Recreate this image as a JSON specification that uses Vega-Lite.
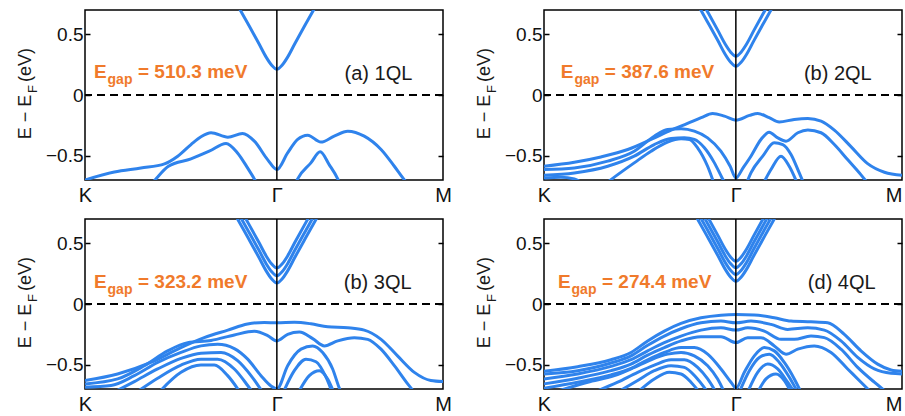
{
"$schema":"https://vega.github.io/schema/vega-lite/v6.json",
"background":"white",
"padding":{"left":15,"top":8,"right":0,"bottom":0},
"config":{"font":"Liberation Sans","view":{"stroke":"black","strokeWidth":1.5},"axis":{"labelFont":"Liberation Sans"}},
"datasets":{
"p1":[
{"band":"c1","k":0.416,"E":0.792},{"band":"c1","k":0.456,"E":0.582},{"band":"c1","k":0.486,"E":0.422},{"band":"c1","k":0.506,"E":0.312},{"band":"c1","k":0.521,"E":0.247},{"band":"c1","k":0.536,"E":0.212},{"band":"c1","k":0.551,"E":0.247},{"band":"c1","k":0.566,"E":0.312},{"band":"c1","k":0.586,"E":0.422},{"band":"c1","k":0.616,"E":0.582},{"band":"c1","k":0.656,"E":0.792},
{"band":"v1","k":0,"E":-0.70},{"band":"v1","k":0.082,"E":-0.634},{"band":"v1","k":0.156,"E":-0.601},{"band":"v1","k":0.222,"E":-0.567},{"band":"v1","k":0.259,"E":-0.504},{"band":"v1","k":0.296,"E":-0.408},{"band":"v1","k":0.324,"E":-0.344},{"band":"v1","k":0.352,"E":-0.311},{"band":"v1","k":0.399,"E":-0.347},{"band":"v1","k":0.44,"E":-0.317},{"band":"v1","k":0.473,"E":-0.38},{"band":"v1","k":0.51,"E":-0.532},{"band":"v1","k":0.536,"E":-0.614},{"band":"v1","k":0.566,"E":-0.477},{"band":"v1","k":0.594,"E":-0.366},{"band":"v1","k":0.622,"E":-0.331},{"band":"v1","k":0.659,"E":-0.388},{"band":"v1","k":0.696,"E":-0.339},{"band":"v1","k":0.734,"E":-0.298},{"band":"v1","k":0.78,"E":-0.339},{"band":"v1","k":0.827,"E":-0.449},{"band":"v1","k":0.864,"E":-0.587},{"band":"v1","k":0.89,"E":-0.691},{"band":"v1","k":0.91,"E":-0.76},
{"band":"v2","k":0.184,"E":-0.738},{"band":"v2","k":0.198,"E":-0.691},{"band":"v2","k":0.233,"E":-0.587},{"band":"v2","k":0.296,"E":-0.526},{"band":"v2","k":0.347,"E":-0.463},{"band":"v2","k":0.394,"E":-0.399},{"band":"v2","k":0.426,"E":-0.477},{"band":"v2","k":0.454,"E":-0.6},{"band":"v2","k":0.473,"E":-0.691},{"band":"v2","k":0.482,"E":-0.738},
{"band":"v3","k":0.585,"E":-0.752},{"band":"v3","k":0.594,"E":-0.691},{"band":"v3","k":0.631,"E":-0.559},{"band":"v3","k":0.657,"E":-0.468},{"band":"v3","k":0.682,"E":-0.573},{"band":"v3","k":0.706,"E":-0.691},{"band":"v3","k":0.715,"E":-0.752}
],
"p2":[
{"band":"c1","k":0.416,"E":0.816},{"band":"c1","k":0.456,"E":0.606},{"band":"c1","k":0.486,"E":0.446},{"band":"c1","k":0.506,"E":0.336},{"band":"c1","k":0.521,"E":0.271},{"band":"c1","k":0.536,"E":0.236},{"band":"c1","k":0.551,"E":0.271},{"band":"c1","k":0.566,"E":0.336},{"band":"c1","k":0.586,"E":0.446},{"band":"c1","k":0.616,"E":0.606},{"band":"c1","k":0.656,"E":0.816},
{"band":"c2","k":0.416,"E":0.9},{"band":"c2","k":0.456,"E":0.69},{"band":"c2","k":0.486,"E":0.53},{"band":"c2","k":0.506,"E":0.42},{"band":"c2","k":0.521,"E":0.355},{"band":"c2","k":0.536,"E":0.32},{"band":"c2","k":0.551,"E":0.355},{"band":"c2","k":0.566,"E":0.42},{"band":"c2","k":0.586,"E":0.53},{"band":"c2","k":0.616,"E":0.69},{"band":"c2","k":0.656,"E":0.9},
{"band":"A","k":0,"E":-0.587},{"band":"A","k":0.0847,"E":-0.554},{"band":"A","k":0.159,"E":-0.51},{"band":"A","k":0.234,"E":-0.449},{"band":"A","k":0.299,"E":-0.366},{"band":"A","k":0.355,"E":-0.289},{"band":"A","k":0.401,"E":-0.234},{"band":"A","k":0.439,"E":-0.187},{"band":"A","k":0.471,"E":-0.152},{"band":"A","k":0.504,"E":-0.174},{"band":"A","k":0.536,"E":-0.207},{"band":"A","k":0.574,"E":-0.168},{"band":"A","k":0.597,"E":-0.152},{"band":"A","k":0.629,"E":-0.187},{"band":"A","k":0.657,"E":-0.223},{"band":"A","k":0.699,"E":-0.201},{"band":"A","k":0.737,"E":-0.193},{"band":"A","k":0.774,"E":-0.215},{"band":"A","k":0.811,"E":-0.289},{"band":"A","k":0.858,"E":-0.427},{"band":"A","k":0.904,"E":-0.565},{"band":"A","k":0.951,"E":-0.636},{"band":"A","k":1,"E":-0.661},
{"band":"B","k":0,"E":-0.614},{"band":"B","k":0.0847,"E":-0.601},{"band":"B","k":0.178,"E":-0.545},{"band":"B","k":0.252,"E":-0.463},{"band":"B","k":0.308,"E":-0.339},{"band":"B","k":0.345,"E":-0.284},{"band":"B","k":0.383,"E":-0.278},{"band":"B","k":0.42,"E":-0.298},{"band":"B","k":0.457,"E":-0.353},{"band":"B","k":0.494,"E":-0.463},{"band":"B","k":0.52,"E":-0.587},{"band":"B","k":0.536,"E":-0.683},{"band":"B","k":0.556,"E":-0.6},{"band":"B","k":0.578,"E":-0.504},{"band":"B","k":0.606,"E":-0.366},{"band":"B","k":0.629,"E":-0.306},{"band":"B","k":0.653,"E":-0.353},{"band":"B","k":0.676,"E":-0.38},{"band":"B","k":0.709,"E":-0.311},{"band":"B","k":0.737,"E":-0.289},{"band":"B","k":0.774,"E":-0.311},{"band":"B","k":0.811,"E":-0.408},{"band":"B","k":0.848,"E":-0.532},{"band":"B","k":0.885,"E":-0.656},{"band":"B","k":0.904,"E":-0.725},
{"band":"C","k":0,"E":-0.661},{"band":"C","k":0.0847,"E":-0.642},{"band":"C","k":0.178,"E":-0.587},{"band":"C","k":0.252,"E":-0.504},{"band":"C","k":0.308,"E":-0.408},{"band":"C","k":0.355,"E":-0.358},{"band":"C","k":0.392,"E":-0.353},{"band":"C","k":0.42,"E":-0.366},{"band":"C","k":0.448,"E":-0.435},{"band":"C","k":0.476,"E":-0.559},{"band":"C","k":0.499,"E":-0.691},{"band":"C","k":0.508,"E":-0.738},
{"band":"C2","k":0.564,"E":-0.738},{"band":"C2","k":0.578,"E":-0.642},{"band":"C2","k":0.611,"E":-0.504},{"band":"C2","k":0.643,"E":-0.394},{"band":"C2","k":0.667,"E":-0.408},{"band":"C2","k":0.69,"E":-0.49},{"band":"C2","k":0.713,"E":-0.642},{"band":"C2","k":0.727,"E":-0.738},
{"band":"D","k":0,"E":-0.683},{"band":"D","k":0.047,"E":-0.678},{"band":"D","k":0.085,"E":-0.691},{"band":"D","k":0.113,"E":-0.738},
{"band":"E","k":0.169,"E":-0.738},{"band":"E","k":0.206,"E":-0.656},{"band":"E","k":0.252,"E":-0.559},{"band":"E","k":0.299,"E":-0.463},{"band":"E","k":0.345,"E":-0.388},{"band":"E","k":0.383,"E":-0.361},{"band":"E","k":0.406,"E":-0.366},{"band":"E","k":0.429,"E":-0.435},{"band":"E","k":0.457,"E":-0.587},{"band":"E","k":0.476,"E":-0.738},
{"band":"F","k":0.611,"E":-0.738},{"band":"F","k":0.634,"E":-0.614},{"band":"F","k":0.662,"E":-0.504},{"band":"F","k":0.685,"E":-0.587},{"band":"F","k":0.709,"E":-0.738}
],
"p3":[
{"band":"c1","k":0.416,"E":0.753},{"band":"c1","k":0.456,"E":0.543},{"band":"c1","k":0.486,"E":0.383},{"band":"c1","k":0.506,"E":0.273},{"band":"c1","k":0.521,"E":0.208},{"band":"c1","k":0.536,"E":0.173},{"band":"c1","k":0.551,"E":0.208},{"band":"c1","k":0.566,"E":0.273},{"band":"c1","k":0.586,"E":0.383},{"band":"c1","k":0.616,"E":0.543},{"band":"c1","k":0.656,"E":0.753},
{"band":"c2","k":0.416,"E":0.812},{"band":"c2","k":0.456,"E":0.602},{"band":"c2","k":0.486,"E":0.442},{"band":"c2","k":0.506,"E":0.332},{"band":"c2","k":0.521,"E":0.267},{"band":"c2","k":0.536,"E":0.232},{"band":"c2","k":0.551,"E":0.267},{"band":"c2","k":0.566,"E":0.332},{"band":"c2","k":0.586,"E":0.442},{"band":"c2","k":0.616,"E":0.602},{"band":"c2","k":0.656,"E":0.812},
{"band":"c3","k":0.416,"E":0.876},{"band":"c3","k":0.456,"E":0.666},{"band":"c3","k":0.486,"E":0.506},{"band":"c3","k":0.506,"E":0.396},{"band":"c3","k":0.521,"E":0.331},{"band":"c3","k":0.536,"E":0.296},{"band":"c3","k":0.551,"E":0.331},{"band":"c3","k":0.566,"E":0.396},{"band":"c3","k":0.586,"E":0.506},{"band":"c3","k":0.616,"E":0.666},{"band":"c3","k":0.656,"E":0.876},
{"band":"a","k":0,"E":-0.63},{"band":"a","k":0.091,"E":-0.576},{"band":"a","k":0.184,"E":-0.481},{"band":"a","k":0.268,"E":-0.359},{"band":"a","k":0.333,"E":-0.277},{"band":"a","k":0.399,"E":-0.215},{"band":"a","k":0.454,"E":-0.165},{"band":"a","k":0.501,"E":-0.152},{"band":"a","k":0.536,"E":-0.155},{"band":"a","k":0.585,"E":-0.15},{"band":"a","k":0.631,"E":-0.163},{"band":"a","k":0.678,"E":-0.188},{"band":"a","k":0.734,"E":-0.196},{"band":"a","k":0.78,"E":-0.215},{"band":"a","k":0.827,"E":-0.291},{"band":"a","k":0.873,"E":-0.427},{"band":"a","k":0.92,"E":-0.563},{"band":"a","k":0.966,"E":-0.63},{"band":"a","k":1,"E":-0.639},
{"band":"b","k":0,"E":-0.658},{"band":"b","k":0.0912,"E":-0.617},{"band":"b","k":0.1657,"E":-0.508},{"band":"b","k":0.2309,"E":-0.386},{"band":"b","k":0.2868,"E":-0.318},{"band":"b","k":0.352,"E":-0.3},{"band":"b","k":0.4171,"E":-0.255},{"band":"b","k":0.473,"E":-0.225},{"band":"b","k":0.5102,"E":-0.26},{"band":"b","k":0.536,"E":-0.304},{"band":"b","k":0.5661,"E":-0.25},{"band":"b","k":0.5987,"E":-0.231},{"band":"b","k":0.6359,"E":-0.285},{"band":"b","k":0.6685,"E":-0.345},{"band":"b","k":0.7058,"E":-0.304},{"band":"b","k":0.7523,"E":-0.277},{"band":"b","k":0.7896,"E":-0.291},{"band":"b","k":0.8268,"E":-0.372},{"band":"b","k":0.8641,"E":-0.508},{"band":"b","k":0.9013,"E":-0.658},{"band":"b","k":0.9199,"E":-0.726},
{"band":"c","k":0,"E":-0.685},{"band":"c","k":0.0726,"E":-0.671},{"band":"c","k":0.1378,"E":-0.59},{"band":"c","k":0.203,"E":-0.481},{"band":"c","k":0.2682,"E":-0.399},{"band":"c","k":0.324,"E":-0.345},{"band":"c","k":0.3706,"E":-0.332},{"band":"c","k":0.4171,"E":-0.367},{"band":"c","k":0.4544,"E":-0.454},{"band":"c","k":0.4916,"E":-0.59},{"band":"c","k":0.5196,"E":-0.675},{"band":"c","k":0.536,"E":-0.7},{"band":"c","k":0.5661,"E":-0.508},{"band":"c","k":0.6034,"E":-0.372},{"band":"c","k":0.6359,"E":-0.345},{"band":"c","k":0.6639,"E":-0.399},{"band":"c","k":0.6918,"E":-0.535},{"band":"c","k":0.7104,"E":-0.693},{"band":"c","k":0.7197,"E":-0.753},
{"band":"d","k":0.0726,"E":-0.739},{"band":"d","k":0.1378,"E":-0.639},{"band":"d","k":0.203,"E":-0.535},{"band":"d","k":0.2682,"E":-0.448},{"band":"d","k":0.324,"E":-0.405},{"band":"d","k":0.3799,"E":-0.399},{"band":"d","k":0.4264,"E":-0.467},{"band":"d","k":0.4637,"E":-0.59},{"band":"d","k":0.4963,"E":-0.726},{"band":"d","k":0.5056,"E":-0.766},
{"band":"e","k":0.1378,"E":-0.739},{"band":"e","k":0.203,"E":-0.611},{"band":"e","k":0.2682,"E":-0.503},{"band":"e","k":0.324,"E":-0.454},{"band":"e","k":0.3706,"E":-0.454},{"band":"e","k":0.4171,"E":-0.535},{"band":"e","k":0.4544,"E":-0.671},{"band":"e","k":0.4777,"E":-0.766},
{"band":"f","k":0.203,"E":-0.739},{"band":"f","k":0.2682,"E":-0.5625},{"band":"f","k":0.324,"E":-0.503},{"band":"f","k":0.3613,"E":-0.503},{"band":"f","k":0.3985,"E":-0.59},{"band":"f","k":0.4358,"E":-0.739},
{"band":"i","k":0.5521,"E":-0.739},{"band":"i","k":0.5847,"E":-0.549},{"band":"i","k":0.6173,"E":-0.454},{"band":"i","k":0.6453,"E":-0.476},{"band":"i","k":0.6732,"E":-0.603},{"band":"i","k":0.6918,"E":-0.739},
{"band":"j","k":0.594,"E":-0.739},{"band":"j","k":0.6266,"E":-0.59},{"band":"j","k":0.6546,"E":-0.549},{"band":"j","k":0.6778,"E":-0.617},{"band":"j","k":0.6965,"E":-0.739}
],
"p4":[
{"band":"c1","k":0.416,"E":0.767},{"band":"c1","k":0.456,"E":0.557},{"band":"c1","k":0.486,"E":0.397},{"band":"c1","k":0.506,"E":0.287},{"band":"c1","k":0.521,"E":0.222},{"band":"c1","k":0.536,"E":0.187},{"band":"c1","k":0.551,"E":0.222},{"band":"c1","k":0.566,"E":0.287},{"band":"c1","k":0.586,"E":0.397},{"band":"c1","k":0.616,"E":0.557},{"band":"c1","k":0.656,"E":0.767},
{"band":"c2","k":0.416,"E":0.823},{"band":"c2","k":0.456,"E":0.613},{"band":"c2","k":0.486,"E":0.453},{"band":"c2","k":0.506,"E":0.343},{"band":"c2","k":0.521,"E":0.278},{"band":"c2","k":0.536,"E":0.243},{"band":"c2","k":0.551,"E":0.278},{"band":"c2","k":0.566,"E":0.343},{"band":"c2","k":0.586,"E":0.453},{"band":"c2","k":0.616,"E":0.613},{"band":"c2","k":0.656,"E":0.823},
{"band":"c3","k":0.416,"E":0.878},{"band":"c3","k":0.456,"E":0.668},{"band":"c3","k":0.486,"E":0.508},{"band":"c3","k":0.506,"E":0.398},{"band":"c3","k":0.521,"E":0.333},{"band":"c3","k":0.536,"E":0.298},{"band":"c3","k":0.551,"E":0.333},{"band":"c3","k":0.566,"E":0.398},{"band":"c3","k":0.586,"E":0.508},{"band":"c3","k":0.616,"E":0.668},{"band":"c3","k":0.656,"E":0.878},
{"band":"c4","k":0.416,"E":0.933},{"band":"c4","k":0.456,"E":0.723},{"band":"c4","k":0.486,"E":0.563},{"band":"c4","k":0.506,"E":0.453},{"band":"c4","k":0.521,"E":0.388},{"band":"c4","k":0.536,"E":0.353},{"band":"c4","k":0.551,"E":0.388},{"band":"c4","k":0.566,"E":0.453},{"band":"c4","k":0.586,"E":0.563},{"band":"c4","k":0.616,"E":0.723},{"band":"c4","k":0.656,"E":0.933},
{"band":"A","k":0,"E":-0.554},{"band":"A","k":0.094,"E":-0.516},{"band":"A","k":0.1872,"E":-0.459},{"band":"A","k":0.243,"E":-0.399},{"band":"A","k":0.2896,"E":-0.304},{"band":"A","k":0.3361,"E":-0.223},{"band":"A","k":0.3827,"E":-0.16},{"band":"A","k":0.4385,"E":-0.114},{"band":"A","k":0.4944,"E":-0.092},{"band":"A","k":0.5363,"E":-0.087},{"band":"A","k":0.5875,"E":-0.09},{"band":"A","k":0.6434,"E":-0.114},{"band":"A","k":0.69,"E":-0.141},{"band":"A","k":0.7458,"E":-0.147},{"band":"A","k":0.7924,"E":-0.155},{"band":"A","k":0.8389,"E":-0.25},{"band":"A","k":0.8855,"E":-0.386},{"band":"A","k":0.932,"E":-0.495},{"band":"A","k":0.9693,"E":-0.543},{"band":"A","k":1,"E":-0.554},
{"band":"B","k":0,"E":-0.576},{"band":"B","k":0.094,"E":-0.549},{"band":"B","k":0.1872,"E":-0.486},{"band":"B","k":0.243,"E":-0.427},{"band":"B","k":0.2896,"E":-0.34},{"band":"B","k":0.3361,"E":-0.264},{"band":"B","k":0.3827,"E":-0.204},{"band":"B","k":0.4385,"E":-0.155},{"band":"B","k":0.4944,"E":-0.141},{"band":"B","k":0.5363,"E":-0.155},{"band":"B","k":0.5782,"E":-0.141},{"band":"B","k":0.6341,"E":-0.168},{"band":"B","k":0.6806,"E":-0.209},{"band":"B","k":0.7365,"E":-0.196},{"band":"B","k":0.7831,"E":-0.215},{"band":"B","k":0.8296,"E":-0.304},{"band":"B","k":0.8762,"E":-0.44},{"band":"B","k":0.9227,"E":-0.535},{"band":"B","k":0.9693,"E":-0.571},{"band":"B","k":1,"E":-0.576},
{"band":"C","k":0,"E":-0.617},{"band":"C","k":0.094,"E":-0.576},{"band":"C","k":0.1872,"E":-0.514},{"band":"C","k":0.243,"E":-0.459},{"band":"C","k":0.2896,"E":-0.386},{"band":"C","k":0.3361,"E":-0.318},{"band":"C","k":0.3827,"E":-0.264},{"band":"C","k":0.4385,"E":-0.215},{"band":"C","k":0.4944,"E":-0.196},{"band":"C","k":0.5363,"E":-0.215},{"band":"C","k":0.5689,"E":-0.196},{"band":"C","k":0.6155,"E":-0.223},{"band":"C","k":0.662,"E":-0.291},{"band":"C","k":0.6993,"E":-0.291},{"band":"C","k":0.7458,"E":-0.264},{"band":"C","k":0.7831,"E":-0.277},{"band":"C","k":0.8296,"E":-0.372},{"band":"C","k":0.8762,"E":-0.522},{"band":"C","k":0.9227,"E":-0.644},{"band":"C","k":0.9507,"E":-0.712},
{"band":"D","k":0,"E":-0.658},{"band":"D","k":0.094,"E":-0.611},{"band":"D","k":0.1872,"E":-0.549},{"band":"D","k":0.243,"E":-0.495},{"band":"D","k":0.2896,"E":-0.421},{"band":"D","k":0.3361,"E":-0.359},{"band":"D","k":0.3827,"E":-0.304},{"band":"D","k":0.4385,"E":-0.269},{"band":"D","k":0.4944,"E":-0.269},{"band":"D","k":0.5363,"E":-0.318},{"band":"D","k":0.5689,"E":-0.277},{"band":"D","k":0.6061,"E":-0.277},{"band":"D","k":0.6434,"E":-0.345},{"band":"D","k":0.676,"E":-0.413},{"band":"D","k":0.7086,"E":-0.372},{"band":"D","k":0.7551,"E":-0.345},{"band":"D","k":0.8017,"E":-0.399},{"band":"D","k":0.8482,"E":-0.535},{"band":"D","k":0.8855,"E":-0.644},{"band":"D","k":0.9134,"E":-0.726},
{"band":"E","k":0,"E":-0.693},{"band":"E","k":0.094,"E":-0.644},{"band":"E","k":0.1872,"E":-0.584},{"band":"E","k":0.243,"E":-0.53},{"band":"E","k":0.2896,"E":-0.459},{"band":"E","k":0.3361,"E":-0.399},{"band":"E","k":0.3827,"E":-0.359},{"band":"E","k":0.4199,"E":-0.359},{"band":"E","k":0.4572,"E":-0.413},{"band":"E","k":0.4944,"E":-0.535},{"band":"E","k":0.5223,"E":-0.644},{"band":"E","k":0.5363,"E":-0.693},{"band":"E","k":0.5596,"E":-0.5625},{"band":"E","k":0.5875,"E":-0.427},{"band":"E","k":0.6155,"E":-0.359},{"band":"E","k":0.6434,"E":-0.386},{"band":"E","k":0.6713,"E":-0.481},{"band":"E","k":0.6993,"E":-0.617},{"band":"E","k":0.7179,"E":-0.726},
{"band":"F1","k":0.0289,"E":-0.726},{"band":"F1","k":0.122,"E":-0.644},{"band":"F1","k":0.1965,"E":-0.59},{"band":"F1","k":0.2523,"E":-0.522},{"band":"F1","k":0.2989,"E":-0.459},{"band":"F1","k":0.3454,"E":-0.413},{"band":"F1","k":0.3827,"E":-0.399},{"band":"F1","k":0.4199,"E":-0.427},{"band":"F1","k":0.4572,"E":-0.508},{"band":"F1","k":0.4851,"E":-0.617},{"band":"F1","k":0.5037,"E":-0.726},
{"band":"F2","k":0.5456,"E":-0.726},{"band":"F2","k":0.5736,"E":-0.549},{"band":"F2","k":0.6015,"E":-0.44},{"band":"F2","k":0.6294,"E":-0.413},{"band":"F2","k":0.6574,"E":-0.481},{"band":"F2","k":0.6853,"E":-0.603},{"band":"F2","k":0.7086,"E":-0.726},
{"band":"G1","k":0.1406,"E":-0.726},{"band":"G1","k":0.2058,"E":-0.644},{"band":"G1","k":0.2616,"E":-0.5625},{"band":"G1","k":0.3082,"E":-0.503},{"band":"G1","k":0.3548,"E":-0.459},{"band":"G1","k":0.392,"E":-0.459},{"band":"G1","k":0.4292,"E":-0.522},{"band":"G1","k":0.4572,"E":-0.617},{"band":"G1","k":0.4804,"E":-0.726},
{"band":"G2","k":0.5689,"E":-0.726},{"band":"G2","k":0.5968,"E":-0.5625},{"band":"G2","k":0.6248,"E":-0.495},{"band":"G2","k":0.6527,"E":-0.535},{"band":"G2","k":0.6806,"E":-0.644},{"band":"G2","k":0.6993,"E":-0.726},
{"band":"H1","k":0.2058,"E":-0.726},{"band":"H1","k":0.2616,"E":-0.63},{"band":"H1","k":0.3082,"E":-0.549},{"band":"H1","k":0.3548,"E":-0.508},{"band":"H1","k":0.392,"E":-0.522},{"band":"H1","k":0.4246,"E":-0.603},{"band":"H1","k":0.4572,"E":-0.726},
{"band":"H2","k":0.5968,"E":-0.726},{"band":"H2","k":0.6201,"E":-0.617},{"band":"H2","k":0.648,"E":-0.576},{"band":"H2","k":0.6713,"E":-0.63},{"band":"H2","k":0.69,"E":-0.726},
{"band":"I1","k":0.2616,"E":-0.726},{"band":"I1","k":0.3082,"E":-0.617},{"band":"I1","k":0.3501,"E":-0.5625},{"band":"I1","k":0.3827,"E":-0.576},{"band":"I1","k":0.4106,"E":-0.644},{"band":"I1","k":0.4339,"E":-0.726}
]
},
"columns":2,
"spacing":{"row":39,"column":101},
"bounds":"flush",
"concat":[
{"width":358,"height":170,
 "layer":[
  {"data":{"name":"p1"},"mark":{"type":"line","color":"#2f83ec","strokeWidth":3,"clip":true,"interpolate":"monotone"},
   "encoding":{
    "x":{"field":"k","type":"quantitative","scale":{"domain":[0,1],"nice":false,"zero":false},"axis":{"values":[0,0.5359,1],"labelExpr":"datum.value < 0.2 ? 'K' : (datum.value > 0.8 ? 'M' : 'Γ')","title":null,"ticks":false,"domain":false,"grid":false,"labelFlush":false,"labelOverlap":false,"labelFontSize":20,"labelPadding":5,"labelColor":"#111111"}},
    "y":{"field":"E","type":"quantitative","scale":{"domain":[-0.7,0.7],"nice":false,"zero":false},"axis":{"values":[-0.5,0,0.5],"format":".1~f","title":null,"domain":false,"grid":false,"tickSize":-5,"tickColor":"black","tickWidth":1.5,"labelPadding":7,"labelFontSize":19,"labelColor":"#111111"}},
    "detail":{"field":"band"}}},
  {"data":{"values":[{}]},"mark":{"type":"rule","color":"black","strokeWidth":2,"strokeDash":[8,5]},
   "encoding":{"y":{"datum":0,"type":"quantitative","axis":{"orient":"right","values":[-0.5,0,0.5],"labels":false,"title":null,"domain":false,"grid":false,"tickSize":-5,"tickColor":"black","tickWidth":1.5}}}},
  {"data":{"values":[{}]},"mark":{"type":"rule","color":"black","strokeWidth":1.5},"encoding":{"x":{"datum":0.5359,"type":"quantitative","axis":null}}},
  {"data":{"values":[{}]},"mark":{"type":"text","text":"(a) 1QL","fontSize":20,"color":"#1a1a1a","align":"left","baseline":"alphabetic"},"encoding":{"x":{"datum":0.725,"type":"quantitative","axis":null},"y":{"datum":0.12,"type":"quantitative","axis":null}}},
  {"data":{"values":[{}]},"mark":{"type":"text","text":"E","fontSize":19,"fontWeight":"bold","color":"#f07a2b","align":"left","baseline":"alphabetic"},"encoding":{"x":{"datum":0.025,"type":"quantitative","axis":null},"y":{"datum":0.14,"type":"quantitative","axis":null}}},
  {"data":{"values":[{}]},"mark":{"type":"text","text":"gap","fontSize":14,"fontWeight":"bold","color":"#f07a2b","align":"left","baseline":"alphabetic"},"encoding":{"x":{"datum":0.063,"type":"quantitative","axis":null},"y":{"datum":0.091,"type":"quantitative","axis":null}}},
  {"data":{"values":[{}]},"mark":{"type":"text","text":"= 510.3 meV","fontSize":19,"fontWeight":"bold","color":"#f07a2b","align":"left","baseline":"alphabetic"},"encoding":{"x":{"datum":0.148,"type":"quantitative","axis":null},"y":{"datum":0.14,"type":"quantitative","axis":null}}},
  {"data":{"values":[{}]},"mark":{"type":"text","text":"E − E","fontSize":18,"angle":270,"color":"#1a1a1a","align":"left","baseline":"alphabetic"},"encoding":{"x":{"datum":-0.1522,"type":"quantitative","axis":null},"y":{"datum":-0.364,"type":"quantitative","axis":null}}},
  {"data":{"values":[{}]},"mark":{"type":"text","text":"F","fontSize":13,"angle":270,"color":"#1a1a1a","align":"left","baseline":"alphabetic"},"encoding":{"x":{"datum":-0.134,"type":"quantitative","axis":null},"y":{"datum":0.0165,"type":"quantitative","axis":null}}},
  {"data":{"values":[{}]},"mark":{"type":"text","text":"(eV)","fontSize":18,"angle":270,"color":"#1a1a1a","align":"left","baseline":"alphabetic"},"encoding":{"x":{"datum":-0.1522,"type":"quantitative","axis":null},"y":{"datum":0.107,"type":"quantitative","axis":null}}}
 ],
 "resolve":{"axis":{"x":"independent","y":"independent"}}},
{"width":358,"height":170,
 "layer":[
  {"data":{"name":"p2"},"mark":{"type":"line","color":"#2f83ec","strokeWidth":3,"clip":true,"interpolate":"monotone"},
   "encoding":{
    "x":{"field":"k","type":"quantitative","scale":{"domain":[0,1],"nice":false,"zero":false},"axis":{"values":[0,0.5359,1],"labelExpr":"datum.value < 0.2 ? 'K' : (datum.value > 0.8 ? 'M' : 'Γ')","labelAlign":{"condition":{"test":"datum.value > 0.9","value":"right"},"value":"center"},"title":null,"ticks":false,"domain":false,"grid":false,"labelFlush":false,"labelOverlap":false,"labelFontSize":20,"labelPadding":5,"labelColor":"#111111"}},
    "y":{"field":"E","type":"quantitative","scale":{"domain":[-0.7,0.7],"nice":false,"zero":false},"axis":{"values":[-0.5,0,0.5],"format":".1~f","title":null,"domain":false,"grid":false,"tickSize":-5,"tickColor":"black","tickWidth":1.5,"labelPadding":7,"labelFontSize":19,"labelColor":"#111111"}},
    "detail":{"field":"band"}}},
  {"data":{"values":[{}]},"mark":{"type":"rule","color":"black","strokeWidth":2,"strokeDash":[8,5]},
   "encoding":{"y":{"datum":0,"type":"quantitative","axis":{"orient":"right","values":[-0.5,0,0.5],"labels":false,"title":null,"domain":false,"grid":false,"tickSize":-5,"tickColor":"black","tickWidth":1.5}}}},
  {"data":{"values":[{}]},"mark":{"type":"rule","color":"black","strokeWidth":1.5},"encoding":{"x":{"datum":0.5359,"type":"quantitative","axis":null}}},
  {"data":{"values":[{}]},"mark":{"type":"text","text":"(b) 2QL","fontSize":20,"color":"#1a1a1a","align":"left","baseline":"alphabetic"},"encoding":{"x":{"datum":0.726,"type":"quantitative","axis":null},"y":{"datum":0.12,"type":"quantitative","axis":null}}},
  {"data":{"values":[{}]},"mark":{"type":"text","text":"E","fontSize":19,"fontWeight":"bold","color":"#f07a2b","align":"left","baseline":"alphabetic"},"encoding":{"x":{"datum":0.047,"type":"quantitative","axis":null},"y":{"datum":0.14,"type":"quantitative","axis":null}}},
  {"data":{"values":[{}]},"mark":{"type":"text","text":"gap","fontSize":14,"fontWeight":"bold","color":"#f07a2b","align":"left","baseline":"alphabetic"},"encoding":{"x":{"datum":0.085,"type":"quantitative","axis":null},"y":{"datum":0.091,"type":"quantitative","axis":null}}},
  {"data":{"values":[{}]},"mark":{"type":"text","text":"= 387.6 meV","fontSize":19,"fontWeight":"bold","color":"#f07a2b","align":"left","baseline":"alphabetic"},"encoding":{"x":{"datum":0.17,"type":"quantitative","axis":null},"y":{"datum":0.14,"type":"quantitative","axis":null}}},
  {"data":{"values":[{}]},"mark":{"type":"text","text":"E − E","fontSize":18,"angle":270,"color":"#1a1a1a","align":"left","baseline":"alphabetic"},"encoding":{"x":{"datum":-0.1522,"type":"quantitative","axis":null},"y":{"datum":-0.364,"type":"quantitative","axis":null}}},
  {"data":{"values":[{}]},"mark":{"type":"text","text":"F","fontSize":13,"angle":270,"color":"#1a1a1a","align":"left","baseline":"alphabetic"},"encoding":{"x":{"datum":-0.134,"type":"quantitative","axis":null},"y":{"datum":0.0165,"type":"quantitative","axis":null}}},
  {"data":{"values":[{}]},"mark":{"type":"text","text":"(eV)","fontSize":18,"angle":270,"color":"#1a1a1a","align":"left","baseline":"alphabetic"},"encoding":{"x":{"datum":-0.1522,"type":"quantitative","axis":null},"y":{"datum":0.107,"type":"quantitative","axis":null}}}
 ],
 "resolve":{"axis":{"x":"independent","y":"independent"}}},
{"width":358,"height":170,
 "layer":[
  {"data":{"name":"p3"},"mark":{"type":"line","color":"#2f83ec","strokeWidth":3,"clip":true,"interpolate":"monotone"},
   "encoding":{
    "x":{"field":"k","type":"quantitative","scale":{"domain":[0,1],"nice":false,"zero":false},"axis":{"values":[0,0.5359,1],"labelExpr":"datum.value < 0.2 ? 'K' : (datum.value > 0.8 ? 'M' : 'Γ')","title":null,"ticks":false,"domain":false,"grid":false,"labelFlush":false,"labelOverlap":false,"labelFontSize":20,"labelPadding":5,"labelColor":"#111111"}},
    "y":{"field":"E","type":"quantitative","scale":{"domain":[-0.7,0.7],"nice":false,"zero":false},"axis":{"values":[-0.5,0,0.5],"format":".1~f","title":null,"domain":false,"grid":false,"tickSize":-5,"tickColor":"black","tickWidth":1.5,"labelPadding":7,"labelFontSize":19,"labelColor":"#111111"}},
    "detail":{"field":"band"}}},
  {"data":{"values":[{}]},"mark":{"type":"rule","color":"black","strokeWidth":2,"strokeDash":[8,5]},
   "encoding":{"y":{"datum":0,"type":"quantitative","axis":{"orient":"right","values":[-0.5,0,0.5],"labels":false,"title":null,"domain":false,"grid":false,"tickSize":-5,"tickColor":"black","tickWidth":1.5}}}},
  {"data":{"values":[{}]},"mark":{"type":"rule","color":"black","strokeWidth":1.5},"encoding":{"x":{"datum":0.5359,"type":"quantitative","axis":null}}},
  {"data":{"values":[{}]},"mark":{"type":"text","text":"(b) 3QL","fontSize":20,"color":"#1a1a1a","align":"left","baseline":"alphabetic"},"encoding":{"x":{"datum":0.723,"type":"quantitative","axis":null},"y":{"datum":0.12,"type":"quantitative","axis":null}}},
  {"data":{"values":[{}]},"mark":{"type":"text","text":"E","fontSize":19,"fontWeight":"bold","color":"#f07a2b","align":"left","baseline":"alphabetic"},"encoding":{"x":{"datum":0.025,"type":"quantitative","axis":null},"y":{"datum":0.135,"type":"quantitative","axis":null}}},
  {"data":{"values":[{}]},"mark":{"type":"text","text":"gap","fontSize":14,"fontWeight":"bold","color":"#f07a2b","align":"left","baseline":"alphabetic"},"encoding":{"x":{"datum":0.063,"type":"quantitative","axis":null},"y":{"datum":0.086,"type":"quantitative","axis":null}}},
  {"data":{"values":[{}]},"mark":{"type":"text","text":"= 323.2 meV","fontSize":19,"fontWeight":"bold","color":"#f07a2b","align":"left","baseline":"alphabetic"},"encoding":{"x":{"datum":0.148,"type":"quantitative","axis":null},"y":{"datum":0.135,"type":"quantitative","axis":null}}},
  {"data":{"values":[{}]},"mark":{"type":"text","text":"E − E","fontSize":18,"angle":270,"color":"#1a1a1a","align":"left","baseline":"alphabetic"},"encoding":{"x":{"datum":-0.1522,"type":"quantitative","axis":null},"y":{"datum":-0.364,"type":"quantitative","axis":null}}},
  {"data":{"values":[{}]},"mark":{"type":"text","text":"F","fontSize":13,"angle":270,"color":"#1a1a1a","align":"left","baseline":"alphabetic"},"encoding":{"x":{"datum":-0.134,"type":"quantitative","axis":null},"y":{"datum":0.0165,"type":"quantitative","axis":null}}},
  {"data":{"values":[{}]},"mark":{"type":"text","text":"(eV)","fontSize":18,"angle":270,"color":"#1a1a1a","align":"left","baseline":"alphabetic"},"encoding":{"x":{"datum":-0.1522,"type":"quantitative","axis":null},"y":{"datum":0.107,"type":"quantitative","axis":null}}}
 ],
 "resolve":{"axis":{"x":"independent","y":"independent"}}},
{"width":358,"height":170,
 "layer":[
  {"data":{"name":"p4"},"mark":{"type":"line","color":"#2f83ec","strokeWidth":3,"clip":true,"interpolate":"monotone"},
   "encoding":{
    "x":{"field":"k","type":"quantitative","scale":{"domain":[0,1],"nice":false,"zero":false},"axis":{"values":[0,0.5359,1],"labelExpr":"datum.value < 0.2 ? 'K' : (datum.value > 0.8 ? 'M' : 'Γ')","labelAlign":{"condition":{"test":"datum.value > 0.9","value":"right"},"value":"center"},"title":null,"ticks":false,"domain":false,"grid":false,"labelFlush":false,"labelOverlap":false,"labelFontSize":20,"labelPadding":5,"labelColor":"#111111"}},
    "y":{"field":"E","type":"quantitative","scale":{"domain":[-0.7,0.7],"nice":false,"zero":false},"axis":{"values":[-0.5,0,0.5],"format":".1~f","title":null,"domain":false,"grid":false,"tickSize":-5,"tickColor":"black","tickWidth":1.5,"labelPadding":7,"labelFontSize":19,"labelColor":"#111111"}},
    "detail":{"field":"band"}}},
  {"data":{"values":[{}]},"mark":{"type":"rule","color":"black","strokeWidth":2,"strokeDash":[8,5]},
   "encoding":{"y":{"datum":0,"type":"quantitative","axis":{"orient":"right","values":[-0.5,0,0.5],"labels":false,"title":null,"domain":false,"grid":false,"tickSize":-5,"tickColor":"black","tickWidth":1.5}}}},
  {"data":{"values":[{}]},"mark":{"type":"rule","color":"black","strokeWidth":1.5},"encoding":{"x":{"datum":0.5359,"type":"quantitative","axis":null}}},
  {"data":{"values":[{}]},"mark":{"type":"text","text":"(d) 4QL","fontSize":20,"color":"#1a1a1a","align":"left","baseline":"alphabetic"},"encoding":{"x":{"datum":0.737,"type":"quantitative","axis":null},"y":{"datum":0.12,"type":"quantitative","axis":null}}},
  {"data":{"values":[{}]},"mark":{"type":"text","text":"E","fontSize":19,"fontWeight":"bold","color":"#f07a2b","align":"left","baseline":"alphabetic"},"encoding":{"x":{"datum":0.039,"type":"quantitative","axis":null},"y":{"datum":0.135,"type":"quantitative","axis":null}}},
  {"data":{"values":[{}]},"mark":{"type":"text","text":"gap","fontSize":14,"fontWeight":"bold","color":"#f07a2b","align":"left","baseline":"alphabetic"},"encoding":{"x":{"datum":0.077,"type":"quantitative","axis":null},"y":{"datum":0.086,"type":"quantitative","axis":null}}},
  {"data":{"values":[{}]},"mark":{"type":"text","text":"= 274.4 meV","fontSize":19,"fontWeight":"bold","color":"#f07a2b","align":"left","baseline":"alphabetic"},"encoding":{"x":{"datum":0.162,"type":"quantitative","axis":null},"y":{"datum":0.135,"type":"quantitative","axis":null}}},
  {"data":{"values":[{}]},"mark":{"type":"text","text":"E − E","fontSize":18,"angle":270,"color":"#1a1a1a","align":"left","baseline":"alphabetic"},"encoding":{"x":{"datum":-0.1522,"type":"quantitative","axis":null},"y":{"datum":-0.364,"type":"quantitative","axis":null}}},
  {"data":{"values":[{}]},"mark":{"type":"text","text":"F","fontSize":13,"angle":270,"color":"#1a1a1a","align":"left","baseline":"alphabetic"},"encoding":{"x":{"datum":-0.134,"type":"quantitative","axis":null},"y":{"datum":0.0165,"type":"quantitative","axis":null}}},
  {"data":{"values":[{}]},"mark":{"type":"text","text":"(eV)","fontSize":18,"angle":270,"color":"#1a1a1a","align":"left","baseline":"alphabetic"},"encoding":{"x":{"datum":-0.1522,"type":"quantitative","axis":null},"y":{"datum":0.107,"type":"quantitative","axis":null}}}
 ],
 "resolve":{"axis":{"x":"independent","y":"independent"}}}
]
}
